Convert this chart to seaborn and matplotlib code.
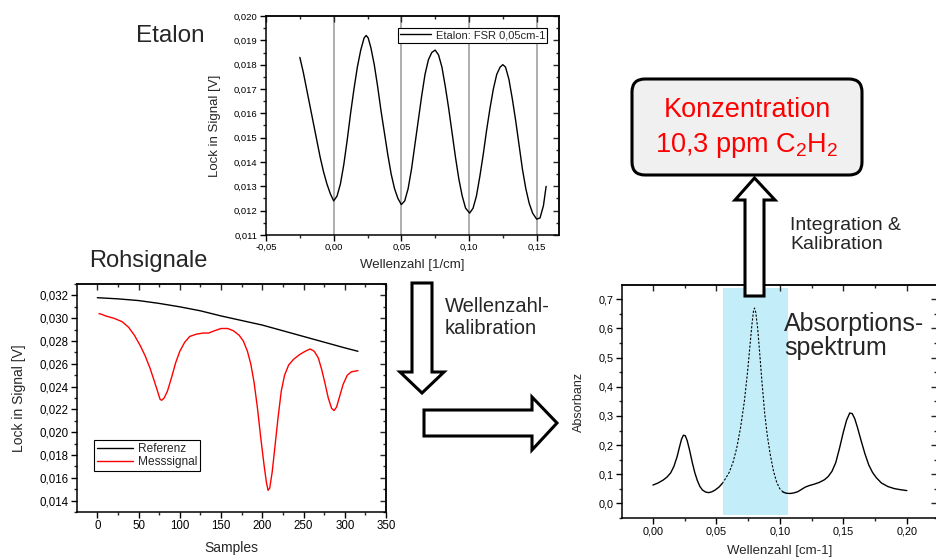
import numpy as np
import pandas as pd
import matplotlib
matplotlib.use('Agg')
import matplotlib.pyplot as plt
import seaborn as sns
from matplotlib.ticker import MultipleLocator, FuncFormatter
from matplotlib.patches import Polygon, FancyBboxPatch

# ---- data ----
# Etalon (top middle)
etalon_x = [-0.025, -0.0225, -0.020, -0.0175, -0.015, -0.0125, -0.010, -0.0075, -0.005, -0.0025,
            0.000, 0.0025, 0.005, 0.0075, 0.010, 0.0125, 0.015, 0.0175, 0.020, 0.0225,
            0.024, 0.0255, 0.0275, 0.030, 0.0325, 0.035, 0.0375, 0.040, 0.0425, 0.045,
            0.0475, 0.050, 0.0525, 0.055, 0.0575, 0.060, 0.0625, 0.065, 0.0675, 0.070,
            0.0725, 0.075, 0.0775, 0.080, 0.0825, 0.085, 0.0875, 0.090, 0.0925, 0.095,
            0.0975, 0.1005, 0.103, 0.1055, 0.108, 0.1105, 0.113, 0.1155, 0.118, 0.1205,
            0.123, 0.125, 0.127, 0.1295, 0.132, 0.1345, 0.137, 0.1395, 0.142, 0.1445,
            0.147, 0.150, 0.1525, 0.155, 0.157]
etalon_y = [0.0183, 0.0177, 0.0170, 0.0163, 0.0156, 0.0149, 0.0142, 0.0136, 0.0131, 0.0127,
            0.0124, 0.0126, 0.0131, 0.0139, 0.0149, 0.0160, 0.0170, 0.0179, 0.0186, 0.0191,
            0.0192, 0.0191, 0.0187, 0.0180, 0.0171, 0.0161, 0.0152, 0.0143, 0.0135, 0.0129,
            0.0125, 0.01225, 0.0124, 0.0129, 0.0137, 0.0147, 0.0157, 0.0167, 0.0176, 0.0182,
            0.0185, 0.0186, 0.0184, 0.0179, 0.0171, 0.0162, 0.0152, 0.0142, 0.0133, 0.0126,
            0.0121, 0.0119, 0.0121, 0.0126, 0.0134, 0.0143, 0.0153, 0.0162, 0.0170, 0.0176,
            0.0179, 0.0180, 0.0179, 0.0174, 0.0166, 0.0157, 0.0147, 0.0137, 0.0129, 0.0123,
            0.0119, 0.01165, 0.0117, 0.0122, 0.0130]
fsr_marks = [0.0, 0.05, 0.10, 0.15]

# Rohsignale (bottom left)
ref_x = [0, 25, 50, 75, 100, 125, 150, 175, 200, 225, 250, 275, 300, 316]
ref_y = [0.0318, 0.0317, 0.03155, 0.0313, 0.0310, 0.03065, 0.0302, 0.0298, 0.0294, 0.0289,
         0.0284, 0.0279, 0.0274, 0.0271]
mess_x = [2, 5, 10, 20, 30, 38, 45, 52, 58, 64, 69, 73, 76, 78, 81, 85, 90, 95, 100, 106,
          112, 120, 128, 135, 142, 150, 158, 165, 172, 177, 182, 186, 190, 194, 198, 202,
          205, 207, 209, 212, 215, 219, 223, 227, 232, 238, 245, 252, 258, 263, 268, 272,
          276, 280, 284, 287, 290, 294, 298, 303, 308, 316]
mess_y = [0.0304, 0.03035, 0.0302, 0.0300, 0.0297, 0.0292, 0.0285, 0.0276, 0.0267, 0.0256,
          0.0245, 0.0236, 0.0229, 0.0228, 0.0230, 0.0236, 0.0248, 0.0261, 0.0271, 0.0279,
          0.0284, 0.0286, 0.0287, 0.0287, 0.0289, 0.0291, 0.0291, 0.0289, 0.0285, 0.0280,
          0.0271, 0.0260, 0.0244, 0.0222, 0.0196, 0.0172, 0.0156, 0.0149, 0.0151, 0.0165,
          0.0185, 0.0212, 0.0236, 0.0250, 0.0259, 0.0264, 0.0268, 0.0271, 0.0273, 0.0271,
          0.0265, 0.0255, 0.0243, 0.0230, 0.0221, 0.0219, 0.0222, 0.0232, 0.0242, 0.0250,
          0.0253, 0.0254]

# Absorptionsspektrum (bottom right)
abs_x = [0.000, 0.004, 0.008, 0.011, 0.014, 0.0165, 0.019, 0.021, 0.0225, 0.024,
         0.0255, 0.027, 0.029, 0.031, 0.033, 0.035, 0.037, 0.039, 0.0415, 0.044,
         0.0465, 0.049, 0.052, 0.0545, 0.057, 0.060, 0.063, 0.066, 0.069, 0.072,
         0.0745, 0.0765, 0.078, 0.0792, 0.080, 0.081, 0.0825, 0.084, 0.086, 0.088,
         0.090, 0.0925, 0.095, 0.0975, 0.100, 0.1025, 0.105, 0.108, 0.111, 0.114,
         0.117, 0.120, 0.123, 0.127, 0.131, 0.135, 0.138, 0.141, 0.144, 0.147,
         0.150, 0.1525, 0.155, 0.157, 0.159, 0.161, 0.164, 0.167, 0.170, 0.173,
         0.176, 0.180, 0.185, 0.190, 0.195, 0.200]
abs_y = [0.063, 0.070, 0.080, 0.090, 0.105, 0.127, 0.160, 0.195, 0.220, 0.234,
         0.232, 0.215, 0.180, 0.140, 0.105, 0.078, 0.058, 0.046, 0.039, 0.037,
         0.040, 0.046, 0.056, 0.068, 0.084, 0.106, 0.140, 0.190, 0.260, 0.350,
         0.450, 0.545, 0.615, 0.660, 0.670, 0.655, 0.600, 0.520, 0.410, 0.310,
         0.235, 0.165, 0.110, 0.072, 0.050, 0.039, 0.035, 0.034, 0.036, 0.040,
         0.048, 0.056, 0.061, 0.066, 0.072, 0.081, 0.092, 0.110, 0.140, 0.190,
         0.245, 0.285, 0.310, 0.308, 0.290, 0.262, 0.215, 0.170, 0.132, 0.106,
         0.088, 0.070, 0.058, 0.051, 0.047, 0.044]
int_lo, int_hi = 0.0548, 0.1062   # integration window (shaded)
dash_lo, dash_hi = 0.0545, 0.1025  # part of the spectrum drawn dashed

etalon = pd.DataFrame({'x': etalon_x, 'y': etalon_y})
ref = pd.DataFrame({'x': ref_x, 'y': ref_y})
mess = pd.DataFrame({'x': mess_x, 'y': mess_y})
spec = pd.DataFrame({'x': abs_x, 'y': abs_y})

sns.set_style('ticks')
plt.rcParams['font.family'] = ['Liberation Sans', 'DejaVu Sans']
plt.rcParams['mathtext.default'] = 'regular'


def comma(nd):
    return FuncFormatter(lambda v, p: f'{v:.{nd}f}'.replace('.', ','))


def frame(ax, xmaj, xmin, ymaj, ymin, xd, yd, fs):
    ax.xaxis.set_major_locator(MultipleLocator(xmaj))
    ax.xaxis.set_minor_locator(MultipleLocator(xmin))
    ax.yaxis.set_major_locator(MultipleLocator(ymaj))
    ax.yaxis.set_minor_locator(MultipleLocator(ymin))
    ax.xaxis.set_major_formatter(comma(xd))
    ax.yaxis.set_major_formatter(comma(yd))
    ax.tick_params(which='major', direction='out', length=4, width=1, labelsize=fs, colors='black', pad=2)
    ax.tick_params(which='minor', direction='out', length=2, width=1)
    for s in ax.spines.values():
        s.set_visible(True)
        s.set_linewidth(1.1)
        s.set_color('black')
    # mirrored inward ticks on top and right
    top = ax.secondary_xaxis('top')
    right = ax.secondary_yaxis('right')
    for sec, axis in ((top, top.xaxis), (right, right.yaxis)):
        axis.set_major_locator(MultipleLocator(xmaj if sec is top else ymaj))
        axis.set_minor_locator(MultipleLocator(xmin if sec is top else ymin))
        sec.tick_params(which='major', direction='in', length=4, width=1)
        sec.tick_params(which='minor', direction='in', length=2, width=1)
        sec.tick_params(labeltop=False, labelright=False)
        for s in sec.spines.values():
            s.set_linewidth(1.1)


fig = plt.figure(figsize=(9.36, 5.6), dpi=100)

# ---- Etalon ----
ax1 = fig.add_axes([0.2842, 0.5804, 0.313, 0.391])
for m in fsr_marks:
    ax1.axvline(m, color='#a8a8a8', lw=1.3, zorder=0)
sns.lineplot(data=etalon, x='x', y='y', ax=ax1, color='black', lw=1.0, sort=False,
             label='Etalon: FSR 0,05cm-1')
ax1.set_xlim(-0.05, 0.1665)
ax1.set_ylim(0.011, 0.020)
frame(ax1, 0.05, 0.025, 0.001, 0.0005, 2, 3, 6.8)
ax1.set_xlabel('Wellenzahl [1/cm]', fontsize=9.5, labelpad=5)
ax1.set_ylabel('Lock in Signal [V]', fontsize=9.5, labelpad=9)
leg1 = ax1.legend(loc='upper right', bbox_to_anchor=(0.96, 0.945), borderaxespad=0,
                  fontsize=8, frameon=True, fancybox=False, edgecolor='black',
                  framealpha=1, handlelength=2.8, borderpad=0.2, handletextpad=0.4)
leg1.get_frame().set_linewidth(0.8)

# ---- Rohsignale ----
ax2 = fig.add_axes([0.0823, 0.0857, 0.3301, 0.4071])
sns.lineplot(data=ref, x='x', y='y', ax=ax2, color='black', lw=1.0, sort=False, label='Referenz')
sns.lineplot(data=mess, x='x', y='y', ax=ax2, color='red', lw=1.0, sort=False, label='Messsignal')
ax2.set_xlim(-24.6, 350)
ax2.set_ylim(0.013, 0.033)
frame(ax2, 50, 25, 0.002, 0.001, 0, 3, 8.3)
ax2.set_xlabel('Samples', fontsize=10, labelpad=6)
ax2.set_ylabel('Lock in Signal [V]', fontsize=10, labelpad=10)
leg2 = ax2.legend(loc='lower left', bbox_to_anchor=(0.055, 0.18), borderaxespad=0,
                  fontsize=8.6, frameon=True, fancybox=False, edgecolor='black',
                  framealpha=1, handlelength=3.0, borderpad=0.25, labelspacing=0.05,
                  handletextpad=0.4)
leg2.get_frame().set_linewidth(0.8)

# ---- Absorptionsspektrum ----
ax3 = fig.add_axes([0.6645, 0.075, 0.3365, 0.416])
ax3.axvspan(int_lo, int_hi, ymin=0.0125, ymax=0.989, facecolor='#c2edf9',
            edgecolor='none', zorder=0)
inside = spec[(spec.x >= dash_lo) & (spec.x <= dash_hi)]
left = spec[spec.x <= dash_lo]
right_ = spec[spec.x >= dash_hi]
sns.lineplot(data=left, x='x', y='y', ax=ax3, color='black', lw=1.0, sort=False)
sns.lineplot(data=right_, x='x', y='y', ax=ax3, color='black', lw=1.0, sort=False)
sns.lineplot(data=inside, x='x', y='y', ax=ax3, color='black', lw=0.8, sort=False,
             linestyle=(0, (2, 1.5)))
ax3.set_xlim(-0.0244, 0.2237)
ax3.set_ylim(-0.05, 0.749)
frame(ax3, 0.05, 0.025, 0.1, 0.05, 2, 1, 7.8)
ax3.set_xlabel('Wellenzahl [cm-1]', fontsize=9.5, labelpad=6)
ax3.set_ylabel('Absorbanz', fontsize=9, labelpad=10)

# ---- overlay: titles, arrows, result box ----
ov = fig.add_axes([0, 0, 1, 1])
ov.set_xlim(0, 936)
ov.set_ylim(560, 0)
ov.axis('off')
ov.patch.set_alpha(0)

ov.text(170, 36, 'Etalon', fontsize=17.5, ha='center', va='center')
ov.text(148, 261, 'Rohsignale', fontsize=17, ha='center', va='center')
ov.text(445, 318, 'Wellenzahl-\nkalibration', fontsize=14.5, ha='left', va='center',
        linespacing=1.2)
ov.text(790, 235, 'Integration &\nKalibration', fontsize=14, ha='left', va='center',
        linespacing=1.2)
ov.text(784, 336, 'Absorptions-\nspektrum', fontsize=18, ha='left', va='center',
        linespacing=1.0)

arrow_kw = dict(closed=True, facecolor='white', edgecolor='black', lw=2.2, joinstyle='miter')
ov.add_patch(Polygon([(412, 283), (432, 283), (432, 372), (444, 372), (422, 393),
                      (400, 372), (412, 372)], **arrow_kw))
ov.add_patch(Polygon([(424, 410), (532, 410), (532, 397), (557, 423), (532, 450),
                      (532, 436), (424, 436)], **arrow_kw))
ov.add_patch(Polygon([(745, 296), (764, 296), (764, 200), (775, 200), (754.5, 178),
                      (735, 200), (745, 200)], **arrow_kw))

ov.add_patch(FancyBboxPatch((632, 79), 230, 96, boxstyle='round,pad=0,rounding_size=13',
                            facecolor='#f0f0f0', edgecolor='black', lw=2.2))
ov.text(747, 110, 'Konzentration', fontsize=19.5, color='red', ha='center', va='center')
ov.text(747, 145, '10,3 ppm C$_2$H$_2$', fontsize=19.5, color='red', ha='center', va='center')

fig.savefig('out.png', dpi=100)
